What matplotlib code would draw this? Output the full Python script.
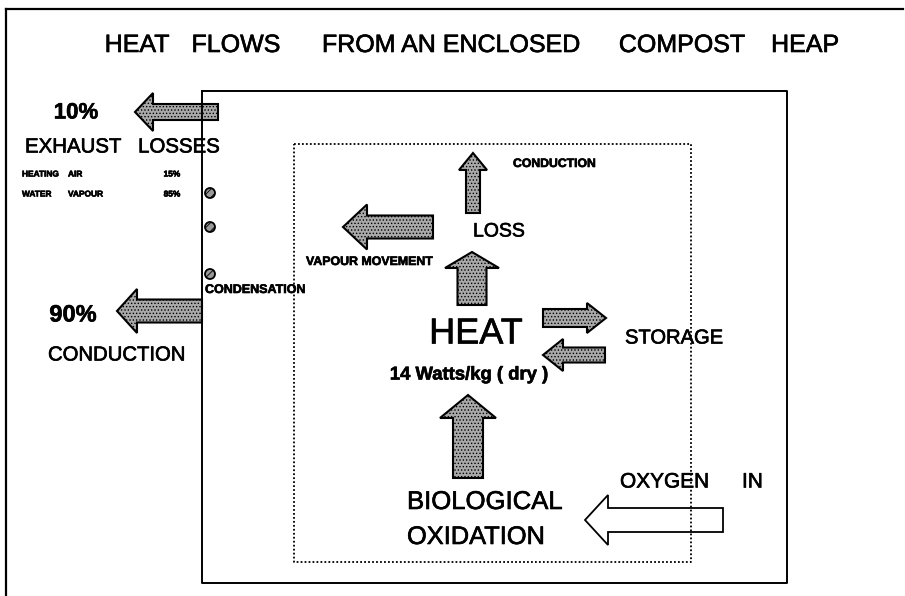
import matplotlib
matplotlib.use("Agg")
import matplotlib.pyplot as plt
from matplotlib.patches import Polygon, Circle
import matplotlib.patheffects as pe

plt.rcParams['hatch.linewidth'] = 0.6
plt.rcParams['hatch.color'] = 'black'

# ---- content ----
title_words = ["HEAT", "FLOWS", "FROM AN ENCLOSED", "COMPOST", "HEAP"]
title_centers = [137, 236, 451, 682, 805]
exhaust_pct = "10%"
conduction_pct = "90%"
exhaust_parts = [["HEATING", "AIR"], ["WATER", "VAPOUR"]]
exhaust_part_pct = ["15%", "85%"]
heat_rate = "14 Watts/kg ( dry )"

# ---- layout (pixel units of the figure) ----
W, H = 905, 596
fig = plt.figure(figsize=(W / 100, H / 100), dpi=100)
ax = fig.add_axes([0, 0, 1, 1])
ax.set_xlim(0, W)
ax.set_ylim(H, 0)
ax.axis('off')

SANS = ['Liberation Sans', 'DejaVu Sans']
THICK = [pe.withStroke(linewidth=0.45, foreground='black')]


def txt(x, y, s, size, weight='normal', ha='left'):
    ax.text(x, y, s, family=SANS, fontsize=size, fontweight=weight, ha=ha,
            va='center', path_effects=THICK)


# outer frame: top and left
ax.plot([6, 903], [9, 9], color='black', lw=1.6)
ax.plot([6, 6], [9, 596], color='black', lw=1.6)
# inner solid box
ax.plot([202, 787, 787, 202, 202], [91, 91, 583, 583, 91], color='black', lw=1.4)
# dotted box
ax.plot([294, 691, 691, 294, 294], [144, 144, 562, 562, 144], color='black',
        lw=1.3, linestyle=(0, (1, 1.2)))


def arrow(tip, direction, length, body_w, head_w, head_len, fill=True):
    tx, ty = tip
    hb, hh = body_w / 2, head_w / 2
    pts = [(0, 0), (head_len, -hh), (head_len, -hb), (length, -hb),
           (length, hb), (head_len, hb), (head_len, hh)]
    dx, dy = {'left': (1, 0), 'right': (-1, 0), 'up': (0, 1), 'down': (0, -1)}[direction]
    xy = [(tx + u * dx - v * dy, ty + u * dy + v * dx) for u, v in pts]
    if fill:
        p = Polygon(xy, closed=True, facecolor='#a9a9a9', edgecolor='black',
                    lw=1.5, hatch='.....', joinstyle='miter')
    else:
        p = Polygon(xy, closed=True, facecolor='white', edgecolor='black',
                    lw=1.3, joinstyle='miter')
    ax.add_patch(p)


arrow((135, 112), 'left', 83, 16, 38, 18)          # exhaust
arrow((117, 311), 'left', 85, 23, 44, 20)          # conduction out
arrow((343, 227), 'left', 90, 23, 45, 24)          # vapour movement
arrow((473, 153), 'up', 60, 14, 28, 17)            # conduction up
arrow((472, 252), 'up', 53, 29, 54, 16)            # heat -> loss
arrow((606, 318), 'right', 63, 18, 30, 19)         # heat -> storage
arrow((543, 355), 'left', 62, 15, 32, 20)          # storage -> heat
arrow((468, 395), 'up', 83, 30, 56, 23)            # oxidation -> heat
arrow((585, 520), 'left', 138, 24, 50, 23, fill=False)  # oxygen in

# condensation droplets
for cy in [193, 227, 274]:
    ax.add_patch(Circle((210, cy), 5, facecolor='#9a9a9a', edgecolor='black',
                        lw=1.3, hatch='////'))

# ---- text ----
for w, cx in zip(title_words, title_centers):
    txt(cx, 45, w, 18, ha='center')

txt(76, 113, exhaust_pct, 16, 'bold', ha='center')
txt(25, 147, "EXHAUST   LOSSES", 14.7)
rows_y = [175, 195]
for (w1, w2), pct, y in zip(exhaust_parts, exhaust_part_pct, rows_y):
    txt(22, y, w1, 6.0, 'bold')
    txt(68, y, w2, 6.0, 'bold')
    txt(172, y, pct, 6.0, 'bold', ha='center')
txt(205, 290, "CONDENSATION", 9.0, 'bold')
txt(73, 315, conduction_pct, 17, 'bold', ha='center')
txt(48, 355, "CONDUCTION", 14.6)

txt(513, 164, "CONDUCTION", 8.8, 'bold')
txt(473, 232, "LOSS", 14)
txt(306, 262, "VAPOUR MOVEMENT", 8.9, 'bold')
txt(476, 334, "HEAT", 26, ha='center')
txt(469, 375, heat_rate, 13.3, 'bold', ha='center')
txt(625, 338, "STORAGE", 14.5)
txt(620, 482, "OXYGEN", 15)
txt(742, 482, "IN", 15)
txt(407, 502, "BIOLOGICAL", 18.5)
txt(407, 537, "OXIDATION", 18.3)

fig.savefig("out.png", dpi=100)
